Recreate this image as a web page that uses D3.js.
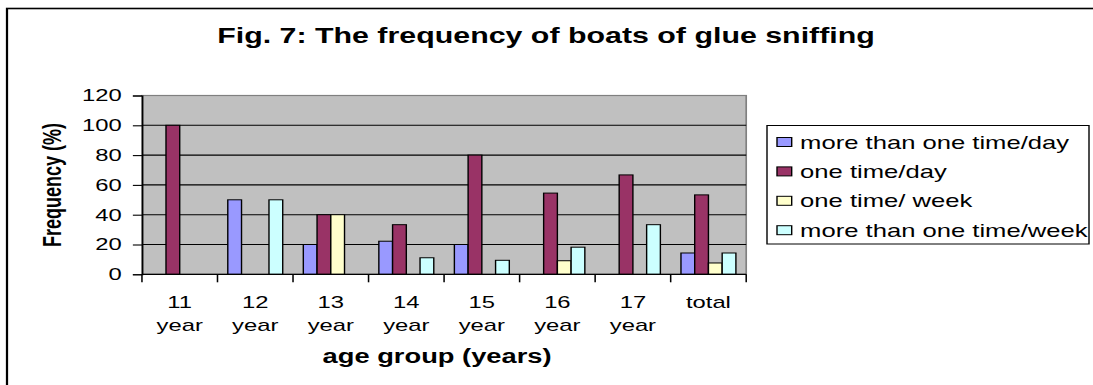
<!DOCTYPE html>
<html lang="en">
<head>
    <meta charset="UTF-8">
    <title>Fig. 7: The frequency of boats of glue sniffing</title>
    <style>
        html, body { margin: 0; padding: 0; background: #fff; }
        svg { display: block; }
        text { font-family: "Liberation Sans", Arial, sans-serif; fill: #000; }
    </style>
    <script src="https://d3js.org/d3.v7.min.js"></script>
</head>
<body>
    <script>
        // data
        let categories = ["11 year", "12 year", "13 year", "14 year", "15 year", "16 year", "17 year", "total"];
        let seriesNames = ["more than one time/day", "one time/day", "one time/ week", "more than one time/week"];
        let moreThanOnceDay  = [0, 50, 20, 22.2, 20, 0, 0, 14.3];
        let onceDay          = [100, 0, 40, 33.3, 80, 54.5, 66.7, 53.3];
        let onceWeek         = [0, 0, 40, 0, 0, 9.1, 0, 7.6];
        let moreThanOnceWeek = [0, 50, 0, 11.1, 9.4, 18.2, 33.3, 14.3];
        let yTicks = [0, 20, 40, 60, 80, 100, 120];
        let colors = ["#9999FF", "#993366", "#FFFFCC", "#CCFFFF"];

        let seriesValues = [moreThanOnceDay, onceDay, onceWeek, moreThanOnceWeek];

        // the original picture is stretched sideways, so draw in a narrower box and stretch it
        let stretch = 1.4,
            outW = 1093, outH = 385,
            W = outW / stretch, H = outH;

        let svg = d3.select("body")
            .append("svg")
            .attr("width", outW)
            .attr("height", outH)
            .attr("viewBox", "0 0 " + W + " " + H)
            .attr("preserveAspectRatio", "none");

        // outer chart frame (cut off on the right and bottom)
        svg.append("rect")
            .attr("x", 5).attr("y", 8.5)
            .attr("width", W + 20).attr("height", H + 20)
            .attr("fill", "#fff")
            .attr("stroke", "#000")
            .attr("stroke-width", 1.6);

        let plot = {left: 101.4, right: 533, top: 95.5, bottom: 274.3};

        let x0 = d3.scaleBand().domain(categories).range([plot.left, plot.right]);
        let gap = x0.bandwidth() * 0.75 / 5.5;
        let x1 = d3.scaleBand().domain(d3.range(seriesNames.length)).range([gap, x0.bandwidth() - gap]);
        let y = d3.scaleLinear().domain([0, 120]).range([plot.bottom, plot.top]);

        // plot area
        svg.append("rect")
            .attr("x", plot.left).attr("y", plot.top)
            .attr("width", plot.right - plot.left).attr("height", plot.bottom - plot.top)
            .attr("fill", "#C0C0C0")
            .attr("stroke", "#808080")
            .attr("stroke-width", 1.2);

        // gridlines
        svg.append("g")
            .selectAll("line")
            .data(yTicks.filter(d => d > 0 && d < 120))
            .join("line")
            .attr("x1", plot.left).attr("x2", plot.right)
            .attr("y1", d => y(d)).attr("y2", d => y(d))
            .attr("stroke", "#000")
            .attr("stroke-width", 1.1);

        // bars
        let groups = svg.append("g")
            .selectAll("g")
            .data(categories)
            .join("g")
            .attr("transform", d => "translate(" + x0(d) + ",0)");

        groups.selectAll("rect")
            .data((c, i) => seriesValues.map((vals, s) => ({s: s, v: vals[i]})).filter(d => d.v > 0))
            .join("rect")
            .attr("x", d => x1(d.s))
            .attr("width", x1.bandwidth())
            .attr("y", d => y(d.v))
            .attr("height", d => y(0) - y(d.v))
            .attr("fill", d => colors[d.s])
            .attr("stroke", "#000")
            .attr("stroke-width", 1);

        // y axis
        let yAxis = svg.append("g")
            .attr("transform", "translate(" + plot.left + ",0)")
            .call(d3.axisLeft(y).tickValues(yTicks).tickSize(6.5).tickPadding(8));
        yAxis.select(".domain").attr("stroke", "#000").attr("stroke-width", 1.1);
        yAxis.selectAll(".tick line").attr("stroke", "#000").attr("stroke-width", 1.1);
        yAxis.selectAll(".tick text")
            .attr("font-family", '"Liberation Sans", Arial, sans-serif')
            .attr("font-size", 17).attr("fill", "#000");

        // x axis: ticks sit on the category boundaries
        let xAxisG = svg.append("g");
        xAxisG.append("line")
            .attr("x1", plot.left).attr("x2", plot.right)
            .attr("y1", plot.bottom).attr("y2", plot.bottom)
            .attr("stroke", "#000").attr("stroke-width", 1.2);
        let bounds = categories.map(c => x0(c)).concat([x0.range()[1]]);
        xAxisG.selectAll(".xtick")
            .data(bounds)
            .join("line")
            .attr("class", "xtick")
            .attr("x1", d => d).attr("x2", d => d)
            .attr("y1", plot.bottom).attr("y2", plot.bottom + 8)
            .attr("stroke", "#000").attr("stroke-width", 1.1);

        let xLabels = xAxisG.selectAll(".xlab")
            .data(categories)
            .join("text")
            .attr("class", "xlab")
            .attr("text-anchor", "middle")
            .attr("font-size", 17)
            .attr("y", 308);
        xLabels.selectAll("tspan")
            .data(d => d.split(" ").map(t => ({t: t, c: d})))
            .join("tspan")
            .attr("x", d => x0(d.c) + x0.bandwidth() / 2)
            .attr("dy", (d, i) => i === 0 ? 0 : 23.5)
            .text(d => d.t);

        // titles
        svg.append("text")
            .attr("x", 390)
            .attr("y", 43)
            .attr("text-anchor", "middle")
            .attr("font-size", 21.7)
            .attr("font-weight", "bold")
            .text("Fig. 7: The frequency of boats of glue sniffing");

        svg.append("text")
            .attr("x", (plot.left + plot.right) / 2 - 5)
            .attr("y", 363)
            .attr("text-anchor", "middle")
            .attr("font-size", 19.5)
            .attr("font-weight", "bold")
            .text("age group (years)");

        svg.append("text")
            .attr("transform", "translate(" + 43.5 + "," + 185 + ") rotate(-90)")
            .attr("text-anchor", "middle")
            .attr("font-size", 18)
            .attr("font-weight", "bold")
            .text("Frequency (%)");

        // legend
        let legend = svg.append("g");
        legend.append("rect")
            .attr("x", 767 / stretch).attr("y", 125.5)
            .attr("width", (1089 - 767) / stretch).attr("height", 118.5)
            .attr("fill", "#fff")
            .attr("stroke", "#000")
            .attr("stroke-width", 1);

        let items = legend.selectAll(".item")
            .data(seriesNames)
            .join("g")
            .attr("class", "item")
            .attr("transform", (d, i) => "translate(" + (777 / stretch) + "," + (142 + i * 29.4) + ")");
        items.append("rect")
            .attr("x", 0).attr("y", -4.5)
            .attr("width", 10.5).attr("height", 9)
            .attr("fill", (d, i) => colors[i])
            .attr("stroke", "#000")
            .attr("stroke-width", 1);
        items.append("text")
            .attr("x", 16.5)
            .attr("y", 6.5)
            .attr("font-size", 18.3)
            .text(d => d);
    </script>
</body>
</html>
